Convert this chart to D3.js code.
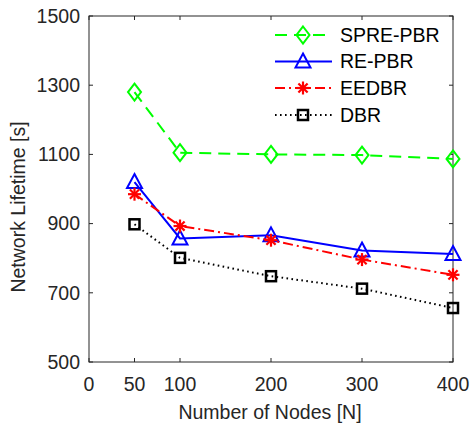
<!DOCTYPE html>
<html>
<head>
<meta charset="utf-8">
<script src="https://cdn.jsdelivr.net/npm/d3@7"></script>
<style>
  body { margin: 0; background: #fff; }
  text { font-family: "Liberation Sans", Arial, sans-serif; fill: #262626; }
</style>
</head>
<body>
<div id="main"></div>
<script>
// values
var nodes = [50, 100, 200, 300, 400];
var spre = [1280, 1105, 1100, 1098, 1087];
var repbr = [1020, 857, 866, 822, 812];
var eedbr = [985, 893, 852, 796, 752];
var dbr = [898, 801, 748, 712, 656];
var xTicks = [0, 50, 100, 200, 300, 400];
var yTicks = [500, 700, 900, 1100, 1300, 1500];

const margin = { top: 16, right: 18, bottom: 64, left: 89 },
    width = 471 - margin.left - margin.right,
    height = 426 - margin.top - margin.bottom;

const fs = 19.5;

const svg = d3.select("#main")
    .append("svg")
    .attr("width", 471)
    .attr("height", 426)
    .append("g")
    .attr("transform", `translate(${margin.left}, ${margin.top})`);

const x = d3.scaleLinear().domain([0, 400]).range([0, width]);
const y = d3.scaleLinear().domain([500, 1500]).range([height, 0]);

// box with inward ticks, matlab style
const tk = 4;
svg.append("rect")
    .attr("width", width).attr("height", height)
    .attr("fill", "none").attr("stroke", "#262626").attr("stroke-width", 1);

xTicks.forEach(function (t) {
    svg.append("line").attr("x1", x(t)).attr("x2", x(t)).attr("y1", height).attr("y2", height - tk).attr("stroke", "#262626");
    svg.append("line").attr("x1", x(t)).attr("x2", x(t)).attr("y1", 0).attr("y2", tk).attr("stroke", "#262626");
    svg.append("text").attr("x", x(t)).attr("y", height + 29).attr("text-anchor", "middle")
        .style("font-size", fs + "px").text(t);
});
yTicks.forEach(function (t) {
    svg.append("line").attr("x1", 0).attr("x2", tk).attr("y1", y(t)).attr("y2", y(t)).attr("stroke", "#262626");
    svg.append("line").attr("x1", width).attr("x2", width - tk).attr("y1", y(t)).attr("y2", y(t)).attr("stroke", "#262626");
    svg.append("text").attr("x", -9).attr("y", y(t)).attr("dy", "0.35em").attr("text-anchor", "end")
        .style("font-size", fs + "px").text(t);
});

svg.append("text")
    .attr("text-anchor", "middle")
    .attr("x", 270 - margin.left)
    .attr("y", 419 - margin.top)
    .style("font-size", fs + "px")
    .text("Number of Nodes [N]");

svg.append("text")
    .attr("text-anchor", "middle")
    .attr("transform", `translate(${25 - margin.left}, ${207 - margin.top}) rotate(-90)`)
    .style("font-size", fs + "px")
    .text("Network Lifetime [s]");

// marker shapes
function marker(g, kind, color) {
    if (kind == "diamond") {
        g.append("path").attr("d", "M0,-8.5L6.5,0L0,8.5L-6.5,0Z")
            .attr("fill", "none").attr("stroke", color).attr("stroke-width", 2);
    } else if (kind == "triangle") {
        g.append("path").attr("d", "M0,-8L7.5,6L-7.5,6Z")
            .attr("fill", "none").attr("stroke", color).attr("stroke-width", 2);
    } else if (kind == "square") {
        g.append("rect").attr("x", -5).attr("y", -5).attr("width", 10).attr("height", 10)
            .attr("fill", "none").attr("stroke", color).attr("stroke-width", 2.5);
    } else {
        var r = 6.5;
        for (var a = 0; a < 4; a++) {
            var ang = a * Math.PI / 4;
            g.append("line")
                .attr("x1", -r * Math.cos(ang)).attr("y1", -r * Math.sin(ang))
                .attr("x2", r * Math.cos(ang)).attr("y2", r * Math.sin(ang))
                .attr("stroke", color).attr("stroke-width", 2.2);
        }
    }
}

var series = [
    { name: "SPRE-PBR", values: spre, color: "#00ff00", dash: "12,7", mark: "diamond" },
    { name: "RE-PBR", values: repbr, color: "#0000ff", dash: null, mark: "triangle" },
    { name: "EEDBR", values: eedbr, color: "#ff0000", dash: "10,4,2,4", mark: "star" },
    { name: "DBR", values: dbr, color: "#000000", dash: "1.6,3.4", mark: "square" }
];

const line = d3.line()
    .x(function (d) { return x(d[0]); })
    .y(function (d) { return y(d[1]); });

series.forEach(function (s) {
    var pts = nodes.map(function (n, i) { return [n, s.values[i]]; });
    svg.append("path")
        .datum(pts)
        .attr("d", line)
        .attr("fill", "none")
        .attr("stroke", s.color)
        .attr("stroke-width", 2)
        .attr("stroke-dasharray", s.dash);
    pts.forEach(function (p) {
        var g = svg.append("g").attr("transform", `translate(${x(p[0])}, ${y(p[1])})`);
        marker(g, s.mark, s.color);
    });
});

// legend (no box)
var legRows = [35, 61.5, 88, 115];
series.forEach(function (s, i) {
    var ly = legRows[i] - margin.top;
    svg.append("line")
        .attr("x1", 275 - margin.left).attr("x2", 332 - margin.left)
        .attr("y1", ly).attr("y2", ly)
        .attr("stroke", s.color).attr("stroke-width", 2)
        .attr("stroke-dasharray", s.dash);
    var g = svg.append("g").attr("transform", `translate(${303 - margin.left}, ${ly})`);
    marker(g, s.mark, s.color);
    svg.append("text")
        .attr("x", 340 - margin.left).attr("y", ly).attr("dy", "0.35em")
        .style("font-size", fs + "px").style("fill", "#000")
        .text(s.name);
});
</script>
</body>
</html>
